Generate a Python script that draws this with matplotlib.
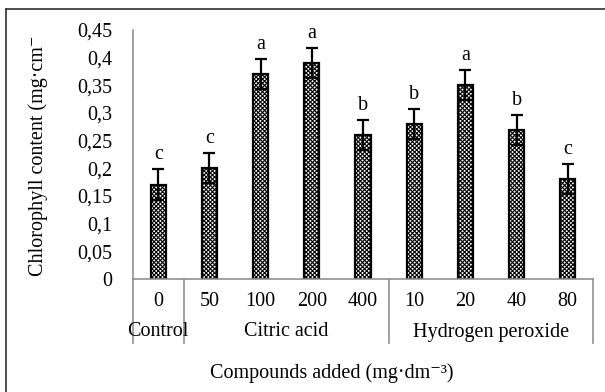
import matplotlib
matplotlib.use("Agg")
import matplotlib.pyplot as plt
from matplotlib.lines import Line2D
import numpy as np

plt.rcParams['font.family'] = ['Liberation Serif', 'DejaVu Serif']
plt.rcParams['hatch.linewidth'] = 0.8

doses = ['0', '50', '100', '200', '400', '10', '20', '40', '80']
values = [0.17, 0.20, 0.37, 0.39, 0.26, 0.28, 0.35, 0.27, 0.18]
errors = [0.028, 0.027, 0.027, 0.027, 0.027, 0.027, 0.027, 0.027, 0.027]
letters = ['c', 'c', 'a', 'a', 'b', 'b', 'a', 'b', 'c']
groups = ['Control', 'Citric acid', 'Hydrogen peroxide']
group_sizes = [1, 4, 4]
yticks = [0, 0.05, 0.1, 0.15, 0.2, 0.25, 0.3, 0.35, 0.4, 0.45]
ytick_labels = ['0', '0,05', '0,1', '0,15', '0,2', '0,25', '0,3', '0,35', '0,4', '0,45']

FS = 14.5
W, H = 605, 392
fig = plt.figure(figsize=(W / 100, H / 100), dpi=100)
x0, x1 = 132.7, 593.3
yb, yt = 279, 30
ax = fig.add_axes([x0 / W, (H - yb) / H, (x1 - x0) / W, (yb - yt) / H])

x = np.arange(len(doses))
ax.bar(x, values, width=0.3, color='white', edgecolor='black', linewidth=1.6,
       hatch='xxxxxxxx', zorder=2)
ax.errorbar(x, values, yerr=errors, fmt='none', ecolor='black', elinewidth=1.6,
            capsize=4, capthick=1.6, zorder=3)
for xi, v, e, l in zip(x, values, errors, letters):
    ax.text(xi, v + e + 0.018, l, ha='center', va='baseline', fontsize=FS)

ax.set_xlim(-0.5, len(doses) - 0.5)
ax.set_ylim(0, 0.45)
ax.set_yticks(yticks)
ax.set_yticklabels(ytick_labels, fontsize=FS)
ax.tick_params(axis='y', length=0, pad=14.4)
ax.set_xticks(x)
ax.set_xticklabels(doses, fontsize=FS)
ax.tick_params(axis='x', length=0, pad=9)
for s in ['top', 'right']:
    ax.spines[s].set_visible(False)
for s in ['left', 'bottom']:
    ax.spines[s].set_color('#909090')
    ax.spines[s].set_linewidth(1.2)

# group separators and labels
ph = yb - yt
sep_depth = (343 - yb) / ph
bounds = [-0.5]
for g in group_sizes:
    bounds.append(bounds[-1] + g)
for b in bounds:
    ax.add_line(Line2D([b, b], [0, -sep_depth * 0.45], color='#909090', lw=1.2,
                       clip_on=False, transform=ax.transData))
for i, g in enumerate(groups):
    c = (bounds[i] + bounds[i + 1]) / 2
    ax.text(c, -(332 - yb) / ph * 0.45, g, ha='center', va='center', fontsize=FS)

fig.text(332 / W, (H - 373) / H, 'Compounds added (mg·dm⁻³)', ha='center',
         va='center', fontsize=FS)
fig.text(38 / W, (H - 276) / H, 'Chlorophyll content (mg·cm⁻', rotation=90,
         ha='center', va='bottom', fontsize=14.5)

# figure border (left and top)
fig.add_artist(Line2D([6 / W, 6 / W], [0, (H - 9) / H], color='#303030', lw=1.2,
                      transform=fig.transFigure))
fig.add_artist(Line2D([6 / W, 1], [(H - 9) / H, (H - 9) / H], color='#303030', lw=1.2,
                      transform=fig.transFigure))

fig.savefig('out.png', dpi=100)
